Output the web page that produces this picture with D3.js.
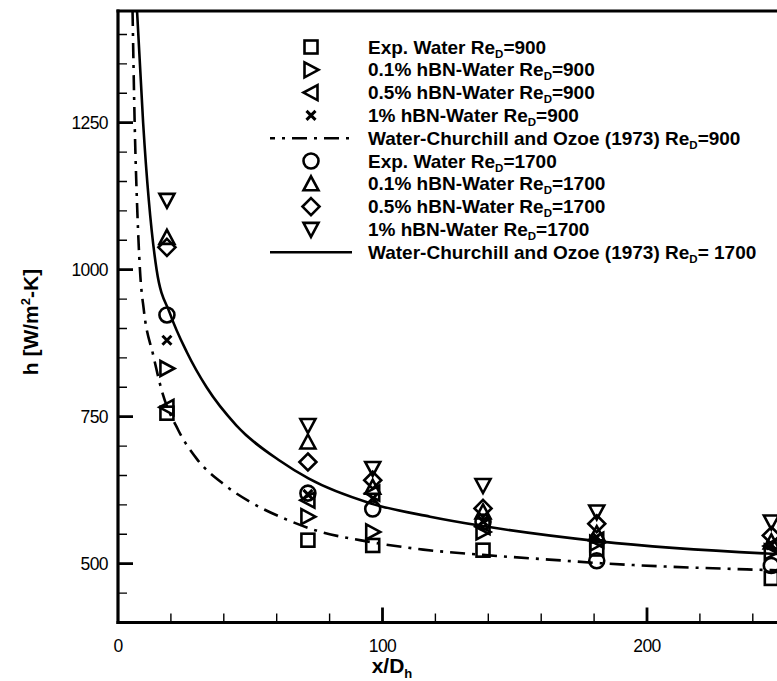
<!DOCTYPE html>
<html><head><meta charset="utf-8">
<script src="https://cdn.jsdelivr.net/npm/d3@7"></script>
<style>body{margin:0;background:#fff}svg{display:block}text{font-family:"Liberation Sans",Arial,sans-serif}</style>
</head><body>
<svg id="c" width="777" height="681"></svg>
<script>
// ---- data ----
const xStations = [18.5, 71.8, 96.3, 138, 181, 247];
const expWater900   = [756, 540, 531, 523, 525, 475];
const hbn01_900     = [832, 580, 554, 554, 535, 520];
const hbn05_900     = [766, 608, 620, 563, 540, 530];
const hbn1_900      = [880, 618, 611, 572, 545, 532];
const expWater1700  = [923, 620, 593, 571, 505, 497];
const hbn01_1700    = [1055, 707, 630, 588, 551, 537];
const hbn05_1700    = [1038, 673, 642, 594, 568, 548];
const hbn1_1700     = [1118, 735, 662, 633, 588, 571];
const co900X = [5.5, 6.3, 7.3, 8.3, 9.8, 13.3, 16.5, 22.8, 30, 40, 50, 63.8, 73.8, 95.3, 115.4, 138, 163, 182, 247, 262];
const co900H = [1440, 1250, 1100, 1000, 930, 855, 795, 727, 677, 635, 605, 575, 558, 537, 524, 515, 507, 501, 489, 487];
const co1700X = [7.2, 9.5, 14.6, 19.7, 26, 33.5, 44.8, 61.2, 72, 95.3, 118, 138, 182, 247, 262];
const co1700H = [1440, 1250, 1000, 925, 860, 800, 735, 675, 645, 603, 580, 564, 538, 517, 514];
const yMajor = [500, 750, 1000, 1250];
const yMinor = [450, 550, 600, 650, 700, 800, 850, 900, 950, 1050, 1100, 1150, 1200, 1300, 1350, 1400];
const xMajor = [0, 100, 200];
const xMinor = [20, 40, 60, 80, 120, 140, 160, 180, 220, 240];
const legendLabels = [
  ["Exp. Water Re", "=900"],
  ["0.1% hBN-Water Re", "=900"],
  ["0.5% hBN-Water Re", "=900"],
  ["1% hBN-Water Re", "=900"],
  ["Water-Churchill and Ozoe (1973) Re", "=900"],
  ["Exp. Water Re", "=1700"],
  ["0.1% hBN-Water Re", "=1700"],
  ["0.5% hBN-Water Re", "=1700"],
  ["1% hBN-Water Re", "=1700"],
  ["Water-Churchill and Ozoe (1973) Re", "= 1700"]
];

// ---- layout ----
const svg = d3.select("#c");
const L = 118, B = 622.5, T = 11;
const x = d3.scaleLinear().domain([0, 260]).range([L, L + 2.645 * 260]);
const y = d3.scaleLinear().domain([400, 1440]).range([B, T]);

svg.append("defs").append("clipPath").attr("id","pc").append("rect")
  .attr("x", L).attr("y", T).attr("width", 777 - L).attr("height", B - T);

// curves
const lineGen = d3.line().x(d => x(d[0])).y(d => y(d[1])).curve(d3.curveMonotoneX);
const cg = svg.append("g").attr("clip-path","url(#pc)");
cg.append("path").datum(co900X.map((v,i)=>[v,co900H[i]]))
  .attr("d", lineGen).attr("fill","none").attr("stroke","#000").attr("stroke-width",2.6)
  .attr("stroke-dasharray","15,7,3,7");
cg.append("path").datum(co1700X.map((v,i)=>[v,co1700H[i]]))
  .attr("d", lineGen).attr("fill","none").attr("stroke","#000").attr("stroke-width",2.6);

// marker drawing
function marker(g, type, cx, cy) {
  const s = 7.5;
  const st = {fill:"none", stroke:"#000", "stroke-width":2.6, "stroke-linejoin":"miter"};
  let el;
  if (type === "square") el = g.append("rect").attr("x",cx-s+1).attr("y",cy-s+1).attr("width",2*s-2).attr("height",2*s-2);
  else if (type === "circle") el = g.append("circle").attr("cx",cx).attr("cy",cy).attr("r",s);
  else if (type === "right") el = g.append("path").attr("d",`M${cx-s+1},${cy-s}L${cx+s},${cy}L${cx-s+1},${cy+s}Z`);
  else if (type === "left") el = g.append("path").attr("d",`M${cx+s-1},${cy-s}L${cx-s},${cy}L${cx+s-1},${cy+s}Z`);
  else if (type === "up") el = g.append("path").attr("d",`M${cx},${cy-s}L${cx+s},${cy+s-1}L${cx-s},${cy+s-1}Z`);
  else if (type === "down") el = g.append("path").attr("d",`M${cx},${cy+s}L${cx+s},${cy-s+1}L${cx-s},${cy-s+1}Z`);
  else if (type === "diamond") el = g.append("path").attr("d",`M${cx},${cy-s-1}L${cx+s+1},${cy}L${cx},${cy+s+1}L${cx-s-1},${cy}Z`);
  else if (type === "x") { el = g.append("path").attr("d",`M${cx-4.5},${cy-4.5}L${cx+4.5},${cy+4.5}M${cx+4.5},${cy-4.5}L${cx-4.5},${cy+4.5}`); st["stroke-width"]=3; }
  Object.entries(st).forEach(([k,v]) => el.attr(k,v));
}

const series = [
  ["square", expWater900], ["right", hbn01_900], ["left", hbn05_900], ["x", hbn1_900],
  ["circle", expWater1700], ["up", hbn01_1700], ["diamond", hbn05_1700], ["down", hbn1_1700]
];
const mg = svg.append("g");
series.forEach(([t, vals]) => vals.forEach((v,i) => marker(mg, t, x(xStations[i]), y(v))));

// axes frame
const ax = svg.append("g");
ax.append("line").attr("x1",L).attr("x2",L).attr("y1",T-1.5).attr("y2",B+1.5).attr("stroke","#000").attr("stroke-width",3.2);
ax.append("line").attr("x1",L-1.5).attr("x2",777).attr("y1",B).attr("y2",B).attr("stroke","#000").attr("stroke-width",3.2);
ax.append("line").attr("x1",L-1.5).attr("x2",777).attr("y1",T).attr("y2",T).attr("stroke","#000").attr("stroke-width",3.2);

// ticks built from the scales (inward)
const tickPath = d3.path();
yMajor.forEach(d => { tickPath.moveTo(L, y(d)); tickPath.lineTo(L + 15, y(d)); });
xMajor.filter(d => d > 0).forEach(d => { tickPath.moveTo(x(d), B); tickPath.lineTo(x(d), B - 15); });
ax.append("path").attr("d", tickPath.toString()).attr("fill","none").attr("stroke","#000").attr("stroke-width",2.8);
const minorPath = d3.path();
yMinor.forEach(d => { minorPath.moveTo(L, y(d)); minorPath.lineTo(L + 9, y(d)); });
xMinor.forEach(d => { minorPath.moveTo(x(d), B); minorPath.lineTo(x(d), B - 9); });
ax.append("path").attr("d", minorPath.toString()).attr("fill","none").attr("stroke","#000").attr("stroke-width",1.4);

ax.selectAll("text.ylab").data(yMajor).join("text").attr("class","ylab")
  .attr("x",L-10).attr("y",d=>y(d)+6).attr("text-anchor","end").attr("font-size",17.5)
  .attr("letter-spacing","-0.6").text(d=>d3.format("d")(d));
ax.selectAll("text.xlab").data(xMajor).join("text").attr("class","xlab")
  .attr("x",d=>x(d)).attr("y",B+29).attr("text-anchor","middle").attr("font-size",17.5)
  .attr("letter-spacing","-0.6").text(d=>d3.format("d")(d));

// axis titles
const xt = svg.append("text").attr("x",392).attr("y",673).attr("text-anchor","middle")
  .attr("font-size",21).attr("font-weight","bold");
xt.append("tspan").text("x/D");
xt.append("tspan").attr("font-size",13).attr("dy",5).text("h");
const yt = svg.append("text").attr("transform","translate(38,322) rotate(-90)").attr("text-anchor","middle")
  .attr("font-size",21).attr("font-weight","bold");
yt.append("tspan").text("h [W/m");
yt.append("tspan").attr("font-size",13).attr("dy",-8).text("2");
yt.append("tspan").attr("dy",8).text("-K]");

// legend
const lg = svg.append("g");
const legendTypes = ["square","right","left","x","dashdot","circle","up","diamond","down","solid"];
legendTypes.forEach((t,i) => {
  const cy = 47 + 22.8 * i;
  if (t === "dashdot" || t === "solid") {
    const ln = lg.append("line").attr("x1",270).attr("x2",352).attr("y1",cy).attr("y2",cy)
      .attr("stroke","#000").attr("stroke-width",2.6);
    if (t === "dashdot") ln.attr("stroke-dasharray","15,7,3,7").attr("stroke-dashoffset",10);
  } else marker(lg, t, 311, cy);
  const tx = lg.append("text").attr("x",368).attr("y",cy+6.5).attr("font-size",19).attr("font-weight","bold");
  tx.append("tspan").text(legendLabels[i][0]);
  tx.append("tspan").attr("font-size",11.5).attr("dy",4).text("D");
  tx.append("tspan").attr("dy",-4).text(legendLabels[i][1]);
});
</script>
</body></html>
